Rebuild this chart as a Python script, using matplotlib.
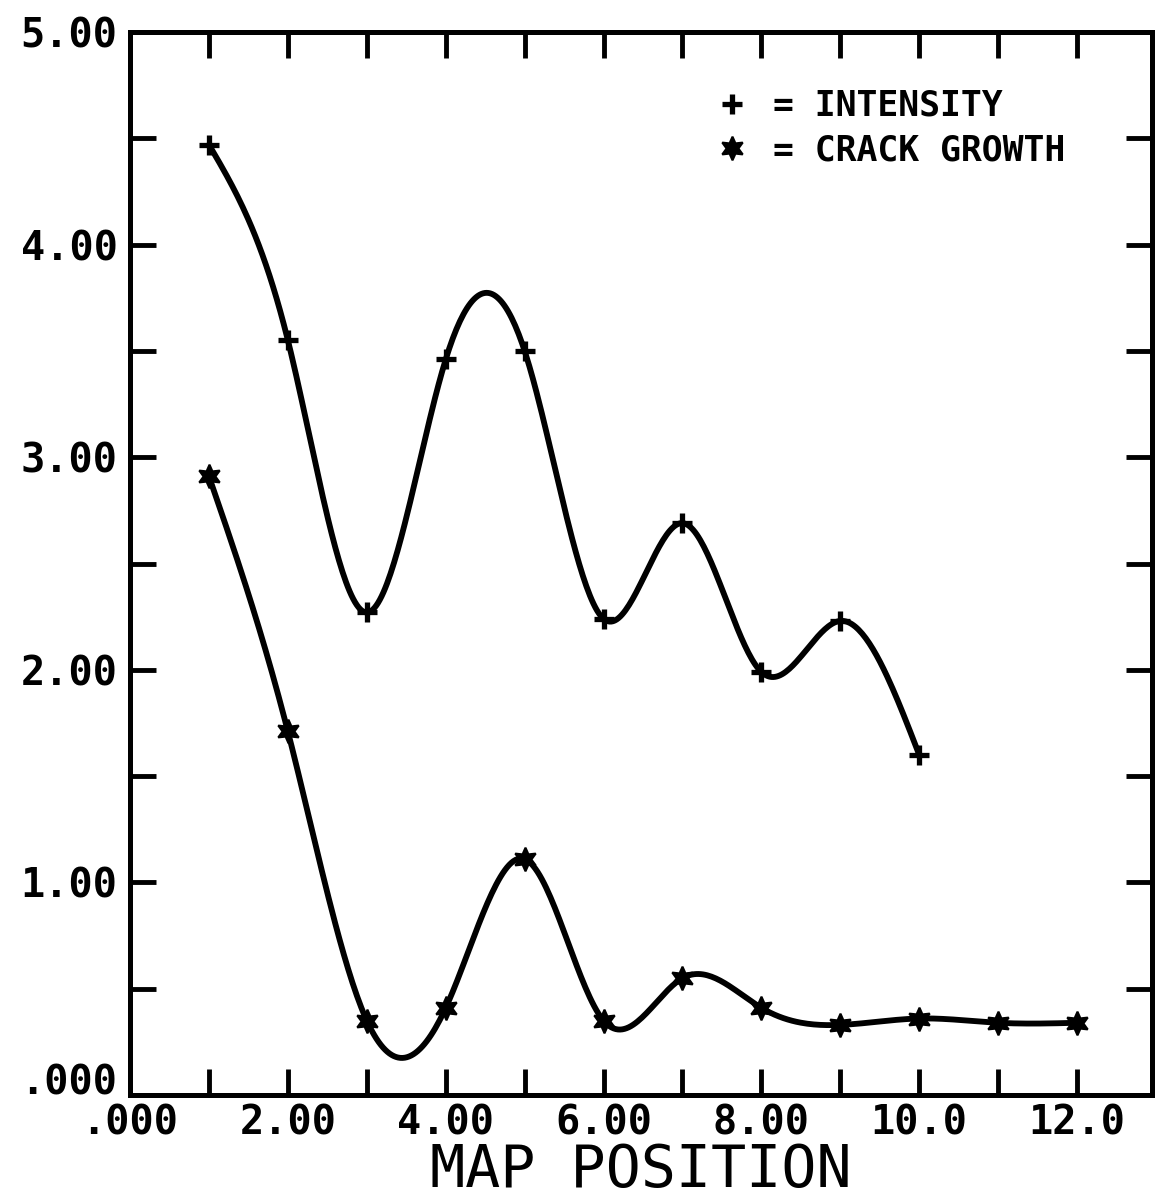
import numpy as np
import matplotlib
matplotlib.use("Agg")
import matplotlib.pyplot as plt
import matplotlib.transforms as mtransforms
from matplotlib.ticker import MultipleLocator, FuncFormatter

# values
map_pos = [1, 2, 3, 4, 5, 6, 7, 8, 9, 10, 11, 12]
intensity = [4.47, 3.55, 2.27, 3.46, 3.50, 2.24, 2.69, 1.99, 2.23, 1.60]
crack_growth = [2.91, 1.71, 0.35, 0.41, 1.11, 0.35, 0.55, 0.41, 0.33, 0.36, 0.34, 0.34]


def natural_spline(x, y, n=400):
    # plain natural cubic spline, just for drawing the smooth plotter curve
    x = np.asarray(x, float)
    y = np.asarray(y, float)
    k = len(x)
    h = np.diff(x)
    A = np.zeros((k, k))
    b = np.zeros(k)
    A[0, 0] = A[-1, -1] = 1
    for i in range(1, k - 1):
        A[i, i - 1] = h[i - 1]
        A[i, i] = 2 * (h[i - 1] + h[i])
        A[i, i + 1] = h[i]
        b[i] = 3 * ((y[i + 1] - y[i]) / h[i] - (y[i] - y[i - 1]) / h[i - 1])
    c = np.linalg.solve(A, b)
    xs = np.linspace(x[0], x[-1], n)
    idx = np.clip(np.searchsorted(x, xs) - 1, 0, k - 2)
    dx = xs - x[idx]
    bb = (y[idx + 1] - y[idx]) / h[idx] - h[idx] * (2 * c[idx] + c[idx + 1]) / 3
    dd = (c[idx + 1] - c[idx]) / (3 * h[idx])
    ys = y[idx] + bb * dx + c[idx] * dx ** 2 + dd * dx ** 3
    return xs, ys


def fmt(v, pos):
    if abs(v) < 1e-9:
        return ".000"
    if v >= 10:
        return "%.1f" % v
    return "%.2f" % v


fig = plt.figure(figsize=(11.57, 11.99), dpi=100)
ax = fig.add_axes([0.1124, 0.0867, 0.8833, 0.8866])

xi = map_pos[:len(intensity)]
xs, ys = natural_spline(xi, intensity)
ax.plot(xs, ys, color="black", lw=4.2, solid_capstyle="round")
ax.plot(xi, intensity, ls="none", marker="+", ms=15, mew=3.8, color="black",
        label="= INTENSITY")

xs, ys = natural_spline(map_pos, crack_growth)
ax.plot(xs, ys, color="black", lw=4.2, solid_capstyle="round")
ax.plot(map_pos, crack_growth, ls="none", marker=(6, 1, 0), ms=17, mew=1.5,
        color="black", label="= CRACK GROWTH")

ax.set_xlim(0, 12.95)
ax.set_ylim(0, 5.0)

ax.xaxis.set_major_locator(MultipleLocator(1))
ax.yaxis.set_major_locator(MultipleLocator(0.5))
ax.xaxis.set_major_formatter(FuncFormatter(lambda v, p: fmt(v, p) if round(v) % 2 == 0 else ""))
ax.yaxis.set_major_formatter(FuncFormatter(lambda v, p: fmt(v, p) if abs(v - round(v)) < 1e-6 else ""))

ax.tick_params(direction="in", length=19, width=3.5, top=True, right=True,
               labelsize=29, pad=6)
for lab in ax.get_xticklabels() + ax.get_yticklabels():
    lab.set_family("DejaVu Sans Mono")
    lab.set_weight("bold")
ax.tick_params(axis="y", pad=9)

# the plotter lifted the bottom y label clear of the x labels
fig.canvas.draw()
shift = mtransforms.ScaledTranslation(0, 16 / 100, fig.dpi_scale_trans)
for tick in ax.yaxis.get_major_ticks():
    if abs(tick.get_loc()) < 1e-9:
        tick.label1.set_transform(tick.label1.get_transform() + shift)

for sp in ax.spines.values():
    sp.set_linewidth(3.6)

ax.set_xlabel("MAP POSITION", family="DejaVu Sans Mono", fontsize=42, labelpad=0)

leg = ax.legend(loc="upper right", bbox_to_anchor=(0.946, 0.976), frameon=False,
                handlelength=0.6, handletextpad=0.9, labelspacing=0.3,
                prop={"family": "DejaVu Sans Mono", "weight": "bold", "size": 25})

fig.savefig("out.png", dpi=100, facecolor="white")
